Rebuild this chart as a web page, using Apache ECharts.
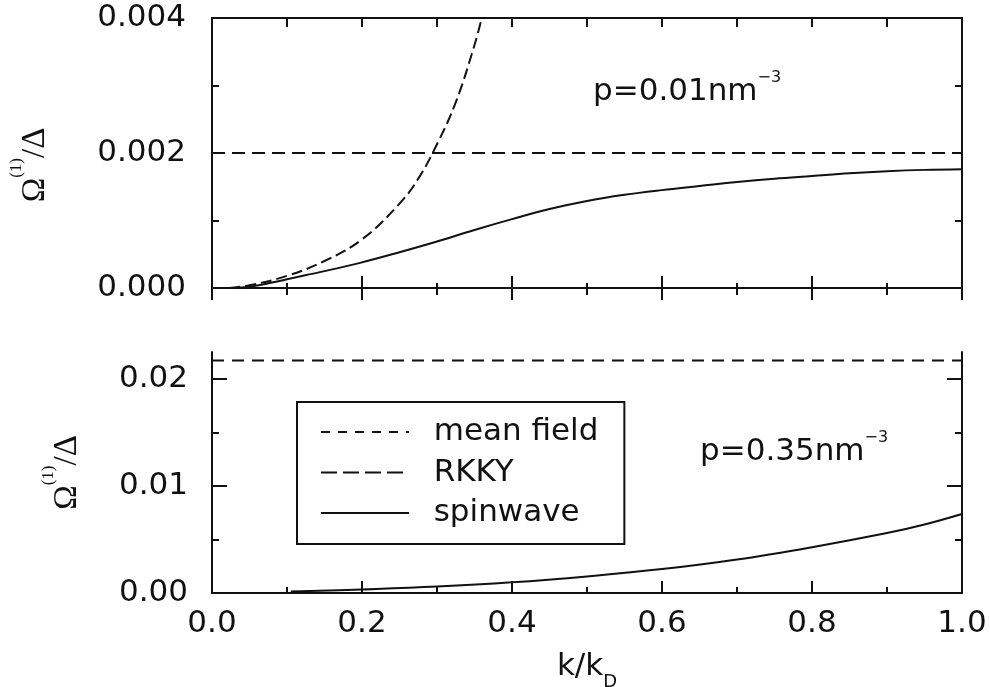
<!DOCTYPE html>
<html>
<head>
<meta charset="utf-8">
<script src="https://cdn.jsdelivr.net/npm/echarts@6/dist/echarts.min.js"></script>
<style>
  html, body { margin: 0; padding: 0; background: #fff; }
  #chart { width: 990px; height: 687px; }
</style>
</head>
<body>
<div id="chart"></div>
<script>
// ---- data: upper panel, p = 0.01 nm^-3 ----
const kMeanTop = [0, 1];
const vMeanTop = [0.002, 0.002];

const kRkkyTop = [0.023, 0.05, 0.10, 0.15, 0.20, 0.25, 0.275, 0.30, 0.325, 0.35, 0.362];
const vRkkyTop = [0, 0.00004, 0.00018, 0.0004, 0.00072, 0.00125, 0.00162, 0.00213, 0.00275, 0.0036, 0.0041];

const kSpinTop = [0.023, 0.05, 0.08, 0.10, 0.15, 0.20, 0.25, 0.30, 0.35, 0.40, 0.45, 0.50, 0.55, 0.60, 0.65, 0.70, 0.75, 0.80, 0.85, 0.90, 0.95, 1.00];
const vSpinTop = [0, 0.00002, 0.00008, 0.00013, 0.00025, 0.00038, 0.00053, 0.00069, 0.00086, 0.00102, 0.00117, 0.00129, 0.00138, 0.00145, 0.00151, 0.00157, 0.00162, 0.00166, 0.0017, 0.00173, 0.00175, 0.00176];

// ---- data: lower panel, p = 0.35 nm^-3 ----
const kMeanBot = [0, 1];
const vMeanBot = [0.0217, 0.0217];

const kSpinBot = [0.105, 0.20, 0.30, 0.40, 0.50, 0.60, 0.70, 0.80, 0.90, 0.95, 1.00];
const vSpinBot = [0.00013, 0.00033, 0.0006, 0.001, 0.00155, 0.00223, 0.00313, 0.00428, 0.0056, 0.0064, 0.00738];

// ---- tick labels ----
const xTickLabels = [0, 0.2, 0.4, 0.6, 0.8, 1.0];
const yTickLabelsTop = [0, 0.002, 0.004];
const yTickLabelsBot = [0, 0.01, 0.02];
const yMinorTicksBot = [0.005, 0.015];

const seriesNames = ['mean field', 'RKKY', 'spinwave'];

const INK = '#111';
const FONT = 'DejaVu Sans';
const SERIF = 'Liberation Serif';

const pairs = (ks, vs) => ks.map((k, i) => [k, vs[i]]);
const lineW = { color: INK, width: 2 };

function xAxisDef(grid, position, o) {
  return Object.assign({
    type: 'value', gridIndex: grid, position: position, min: 0, max: 1, interval: 0.2,
    axisLine: { show: true, onZero: false, lineStyle: lineW },
    axisTick: { show: true, inside: true, length: 12, lineStyle: lineW },
    minorTick: { show: true, splitNumber: 2, length: 5, lineStyle: lineW },
    axisLabel: { show: false },
    splitLine: { show: false }
  }, o);
}

function yAxisDef(grid, position, max, o) {
  return Object.assign({
    type: 'value', gridIndex: grid, position: position, min: 0, max: max,
    axisLine: { show: true, onZero: false, lineStyle: lineW },
    axisTick: { show: true, inside: true, length: 7, lineStyle: lineW },
    axisLabel: { show: false },
    splitLine: { show: false }
  }, o);
}

const yNameStyle = {
  color: INK, fontFamily: SERIF, fontSize: 33,
  rich: {
    o: { fontFamily: SERIF, fontSize: 33, color: INK },
    s: { fontFamily: SERIF, fontSize: 17, color: INK, padding: [0, 0, 38, 0] }
  }
};
const yName = '{o|Ω}{s|(1)}{o|/Δ}';

const tickLabelStyle = { color: INK, fontFamily: FONT, fontSize: 31 };

const option = {
  backgroundColor: '#fff',
  animation: false,
  grid: [
    { left: 212, top: 18, width: 750, height: 270, outerBoundsMode: 'none' },
    { left: 212, top: 352, width: 750, height: 241, outerBoundsMode: 'none' }
  ],
  xAxis: [
    // upper panel: bottom edge, inward ticks
    xAxisDef(0, 'bottom', {}),
    // upper panel: bottom edge, outward ticks
    xAxisDef(0, 'bottom', {
      axisLine: { show: false },
      axisTick: { show: true, inside: false, length: 12, lineStyle: lineW },
      minorTick: { show: true, splitNumber: 2, length: 7, lineStyle: lineW }
    }),
    // upper panel: top frame
    xAxisDef(0, 'top', {
      interval: 0.1,
      axisTick: { show: true, inside: true, length: 9, lineStyle: lineW },
      minorTick: { show: false }
    }),
    // lower panel: labelled k axis
    xAxisDef(1, 'bottom', {
      minorTick: { show: true, splitNumber: 2, length: 6, lineStyle: lineW },
      axisLabel: {
        show: true, margin: 15, ...tickLabelStyle,
        customValues: xTickLabels,
        formatter: v => v.toFixed(1)
      },
      name: '{a|k/k}{b|D}',
      nameLocation: 'middle',
      nameGap: 50,
      nameTextStyle: {
        color: INK, fontFamily: FONT, fontSize: 31,
        rich: {
          a: { fontFamily: FONT, fontSize: 31, color: INK },
          b: { fontFamily: FONT, fontSize: 18, color: INK, padding: [30, 0, 0, 0] }
        }
      }
    })
  ],
  yAxis: [
    // upper panel left
    yAxisDef(0, 'left', 0.004, {
      interval: 0.001,
      axisLabel: {
        show: true, margin: 26, ...tickLabelStyle,
        customValues: yTickLabelsTop,
        formatter: v => v.toFixed(3)
      },
      name: yName, nameLocation: 'middle', nameGap: 149,
      nameTextStyle: Object.assign({ padding: [0, 24, 0, 0] }, yNameStyle)
    }),
    // upper panel right
    yAxisDef(0, 'right', 0.004, { interval: 0.001 }),
    // lower panel left, major
    yAxisDef(1, 'left', 0.0225, {
      interval: 0.01,
      axisTick: { show: true, inside: true, length: 15, lineStyle: lineW, customValues: yTickLabelsBot },
      axisLabel: {
        show: true, margin: 24, ...tickLabelStyle,
        customValues: yTickLabelsBot,
        formatter: v => v.toFixed(2)
      },
      name: yName, nameLocation: 'middle', nameGap: 117,
      nameTextStyle: yNameStyle
    }),
    // lower panel left, minor
    yAxisDef(1, 'left', 0.0225, {
      interval: 0.01,
      axisLine: { show: false },
      axisTick: { show: true, inside: true, length: 7, lineStyle: lineW, customValues: yMinorTicksBot }
    }),
    // lower panel right, major
    yAxisDef(1, 'right', 0.0225, {
      interval: 0.01,
      axisTick: { show: true, inside: true, length: 15, lineStyle: lineW, customValues: yTickLabelsBot }
    }),
    // lower panel right, minor
    yAxisDef(1, 'right', 0.0225, {
      interval: 0.01,
      axisLine: { show: false },
      axisTick: { show: true, inside: true, length: 7, lineStyle: lineW, customValues: yMinorTicksBot }
    })
  ],
  legend: {
    left: 297, top: 402,
    orient: 'vertical',
    selectedMode: false,
    backgroundColor: '#fff',
    borderColor: INK, borderWidth: 2, borderRadius: 0,
    padding: [14, 26, 15, 23],
    itemWidth: 88, itemHeight: 14, itemGap: 8.5,
    itemStyle: { opacity: 0 },
    formatter: name => '  ' + name,
    textStyle: { color: INK, fontFamily: FONT, fontSize: 31, lineHeight: 32 },
    data: [
      { name: seriesNames[0], lineStyle: { type: [9, 8], width: 2, color: INK } },
      { name: seriesNames[1], lineStyle: { type: [16, 6], width: 2, color: INK } },
      { name: seriesNames[2], lineStyle: { type: 'solid', width: 2, color: INK } }
    ]
  },
  graphic: [
    {
      type: 'text', x: 593, y: 92,
      style: {
        text: '{m|p=0.01nm}{s|−3}', verticalAlign: 'middle', fill: INK,
        rich: {
          m: { fontFamily: FONT, fontSize: 31, fill: INK },
          s: { fontFamily: FONT, fontSize: 16, fill: INK, padding: [0, 0, 28, 0] }
        }
      }
    },
    {
      type: 'text', x: 700, y: 452,
      style: {
        text: '{m|p=0.35nm}{s|−3}', verticalAlign: 'middle', fill: INK,
        rich: {
          m: { fontFamily: FONT, fontSize: 31, fill: INK },
          s: { fontFamily: FONT, fontSize: 16, fill: INK, padding: [0, 0, 28, 0] }
        }
      }
    }
  ],
  series: [
    {
      name: seriesNames[0], type: 'line', xAxisIndex: 0, yAxisIndex: 0,
      data: pairs(kMeanTop, vMeanTop), symbol: 'none',
      lineStyle: { color: INK, width: 2, type: [13, 7] }
    },
    {
      name: seriesNames[1], type: 'line', xAxisIndex: 0, yAxisIndex: 0,
      data: pairs(kRkkyTop, vRkkyTop), symbol: 'none', smooth: 0.4,
      lineStyle: { color: INK, width: 2, type: [11, 5] }
    },
    {
      name: seriesNames[2], type: 'line', xAxisIndex: 0, yAxisIndex: 0,
      data: pairs(kSpinTop, vSpinTop), symbol: 'none', smooth: 0.4,
      lineStyle: { color: INK, width: 2 }
    },
    {
      name: seriesNames[0], type: 'line', xAxisIndex: 3, yAxisIndex: 2,
      data: pairs(kMeanBot, vMeanBot), symbol: 'none',
      lineStyle: { color: INK, width: 2, type: [12, 8] }
    },
    {
      name: seriesNames[2], type: 'line', xAxisIndex: 3, yAxisIndex: 2,
      data: pairs(kSpinBot, vSpinBot), symbol: 'none', smooth: 0.4,
      lineStyle: { color: INK, width: 2 }
    }
  ]
};

const chart = echarts.init(document.getElementById('chart'));
chart.setOption(option);
</script>
</body>
</html>
